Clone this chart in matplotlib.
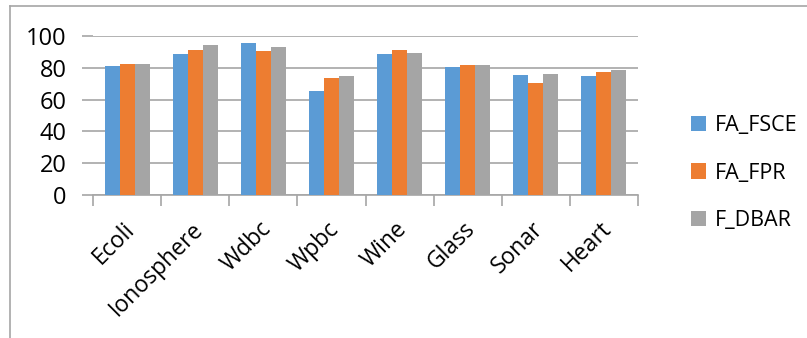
import numpy as np
import matplotlib
matplotlib.use("Agg")
import matplotlib.pyplot as plt
from matplotlib.lines import Line2D

plt.rcParams['font.family'] = ['Open Sans', 'DejaVu Sans']

datasets = ["Ecoli", "Ionosphere", "Wdbc", "Wpbc", "Wine", "Glass", "Sonar", "Heart"]
fa_fsce = [81.3, 88.7, 95.4, 65.4, 88.7, 80.3, 75.3, 74.6]
fa_fpr = [82.4, 91.4, 90.6, 73.6, 91.4, 81.6, 70.6, 77.2]
f_dbar = [82.4, 94.3, 92.9, 74.6, 89.3, 81.6, 76.1, 78.6]
series_names = ["FA_FSCE", "FA_FPR", "F_DBAR"]
colors = ["#5B9BD5", "#ED7D31", "#A5A5A5"]

W, H = 807, 338
fig = plt.figure(figsize=(W / 100, H / 100), dpi=100)
ax = fig.add_axes([93 / W, 1 - 195 / H, (638 - 93) / W, (195 - 36) / H])

x = np.arange(len(datasets))
bw = 0.22
for i, (vals, name, c) in enumerate(zip([fa_fsce, fa_fpr, f_dbar], series_names, colors)):
    ax.bar(x + (i - 1) * bw, vals, width=bw, color=c, label=name, zorder=3)

ax.set_xlim(-0.5, len(datasets) - 0.5)
ax.set_ylim(0, 100)
ax.set_yticks(range(0, 101, 20))
ax.yaxis.grid(True, color="#A6A6A6", linewidth=1.2, zorder=0)
ax.tick_params(axis='y', length=8, width=1.2, color="#A6A6A6", labelsize=17, pad=11)

# category boundary ticks
ax.set_xticks(np.arange(-0.5, len(datasets), 1.0))
ax.set_xticklabels([])
ax.tick_params(axis='x', which='major', length=8, width=1.2, color="#A6A6A6")
ax.set_xticks(x - 0.06, minor=True)
ax.set_xticklabels(datasets, minor=True, rotation=45, ha='right',
                   rotation_mode='anchor', fontsize=16.5)
ax.tick_params(axis='x', which='minor', length=0, pad=16)

for s in ["top", "right", "left"]:
    ax.spines[s].set_visible(False)
ax.spines["bottom"].set_color("#A6A6A6")
ax.spines["bottom"].set_linewidth(1.2)

ax.legend(loc='center left', bbox_to_anchor=(672 / W, 1 - 173 / H),
          bbox_transform=fig.transFigure, frameon=False, fontsize=15.5,
          handlelength=0.7, handleheight=0.7, handletextpad=0.4,
          labelspacing=1.25)

# chart border
fig.add_artist(Line2D([10 / W, 1], [1 - 6 / H, 1 - 6 / H], color="#A6A6A6", linewidth=1.2))
fig.add_artist(Line2D([10 / W, 10 / W], [0, 1 - 6 / H], color="#A6A6A6", linewidth=1.2))

fig.savefig("out.png", dpi=100)
